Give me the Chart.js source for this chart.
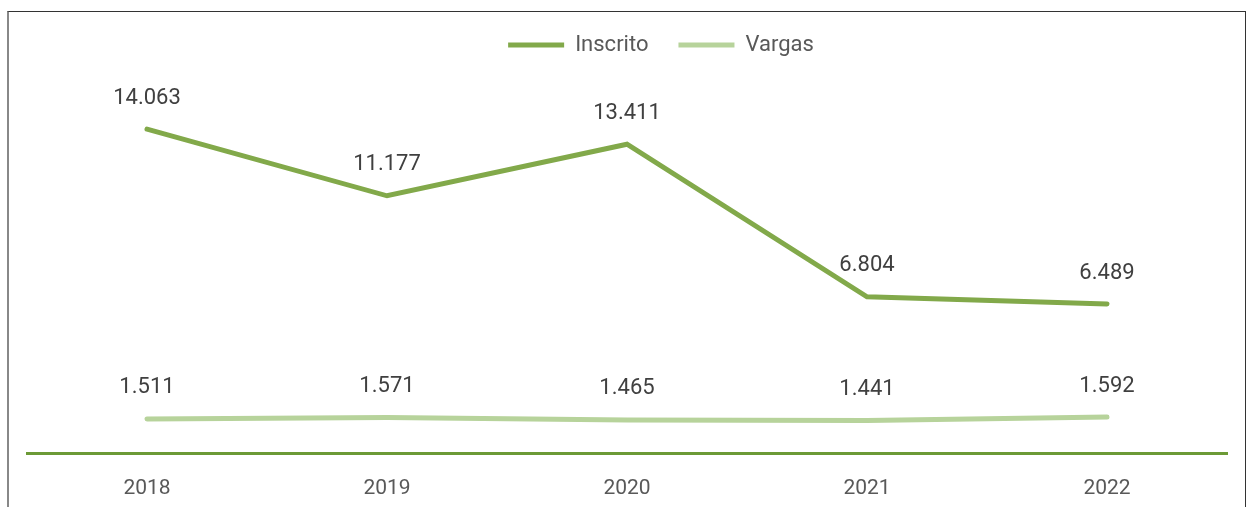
<!DOCTYPE html>
<html>
<head>
<meta charset="utf-8">
<script src="https://cdn.jsdelivr.net/npm/chart.js@4"></script>
<style>
    html, body { margin: 0; padding: 0; background: #fff; overflow: hidden; }
    #wrap { position: relative; width: 1247px; height: 507px; }
    #lineChart { display: block; }
    #frame {
        position: absolute; left: 7px; top: 11px; width: 1236px; height: 520px;
        border: 1px solid #333; border-left: 2px solid #888; pointer-events: none;
    }
</style>
</head>
<body>
<div id="wrap">
    <canvas id="lineChart" width="1247" height="507"></canvas>
    <div id="frame"></div>
</div>
<script>
const years = ['2018', '2019', '2020', '2021', '2022'];
const inscrito = [14063, 11177, 13411, 6804, 6489];
const vargas = [1511, 1571, 1465, 1441, 1592];

const textColor = '#595959';
const fontFamily = 'Roboto, "DejaVu Sans", sans-serif';

// thousands separator with a dot, as in the original
function formatNumber(value) {
    return String(value).replace(/\B(?=(\d{3})+(?!\d))/g, '.');
}

// value labels above each point
const valueLabels = {
    id: 'valueLabels',
    afterDatasetsDraw(chart) {
        const ctx = chart.ctx;
        ctx.save();
        ctx.font = '22px ' + fontFamily;
        ctx.fillStyle = '#404040';
        ctx.textAlign = 'center';
        ctx.textBaseline = 'middle';
        chart.data.datasets.forEach((ds, i) => {
            chart.getDatasetMeta(i).data.forEach((pt, j) => {
                ctx.fillText(formatNumber(ds.data[j]), pt.x, pt.y - 31);
            });
        });
        ctx.restore();
    }
};

// the legend sits a little right of centre in the original
const legendShift = {
    id: 'legendShift',
    afterLayout(chart) {
        chart.legend.left += 34;
        chart.legend.right += 34;
    }
};

const ctx = document.getElementById('lineChart').getContext('2d');
new Chart(ctx, {
    type: 'line',
    data: {
        labels: years,
        datasets: [
            {
                label: 'Inscrito',
                data: inscrito,
                borderColor: '#82a94a',
                backgroundColor: '#82a94a',
                borderWidth: 5,
                borderCapStyle: 'round',
                pointRadius: 0,
                tension: 0
            },
            {
                label: 'Vargas',
                data: vargas,
                borderColor: '#b7d39b',
                backgroundColor: '#b7d39b',
                borderWidth: 5,
                borderCapStyle: 'round',
                pointRadius: 0,
                tension: 0
            }
        ]
    },
    options: {
        responsive: false,
        animation: false,
        layout: {
            padding: { left: 27, right: 20, top: 4, bottom: -16 }
        },
        plugins: {
            tooltip: { enabled: false },
            legend: {
                position: 'top',
                labels: {
                    boxWidth: 56,
                    boxHeight: 5,
                    padding: 30,
                    color: textColor,
                    font: { family: fontFamily, size: 22 },
                    useBorderRadius: true,
                    borderRadius: 2,
                    generateLabels: chart => chart.data.datasets.map((ds, i) => ({
                        text: ds.label,
                        fillStyle: ds.borderColor,
                        strokeStyle: ds.borderColor,
                        lineWidth: 0,
                        fontColor: textColor,
                        datasetIndex: i
                    }))
                }
            }
        },
        scales: {
            x: {
                offset: true,
                grid: { display: true, drawOnChartArea: false, drawTicks: false, color: 'transparent' },
                border: { display: true, color: '#6c9a36', width: 3 },
                ticks: {
                    padding: 22,
                    color: textColor,
                    font: { family: fontFamily, size: 21 }
                }
            },
            y: {
                display: false,
                min: 0,
                max: 16800
            }
        }
    },
    plugins: [valueLabels, legendShift]
});
</script>
</body>
</html>
